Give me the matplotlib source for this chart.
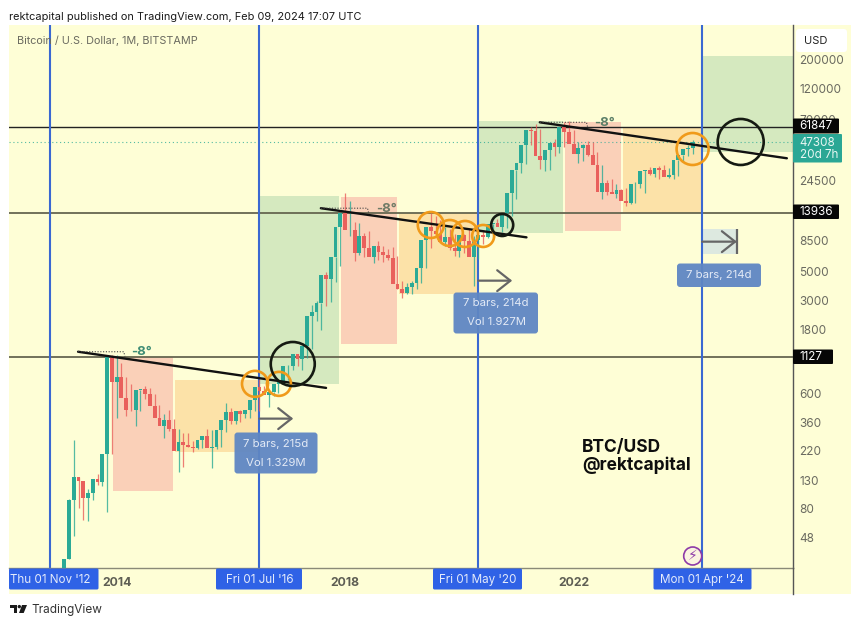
import matplotlib
matplotlib.use("Agg")
import matplotlib.pyplot as plt
from matplotlib.patches import FancyBboxPatch, Polygon, Rectangle, Circle
from matplotlib.transforms import IdentityTransform
import numpy as np

plt.rcParams['font.family'] = ['Inter', 'DejaVu Sans']

# ---------- data: monthly BTC/USD candles, first bar Feb 2013 (month 3, month 0 = Nov 2012)
first_month = 3
opens = [20, 33, 93, 139, 129, 97, 106, 135, 127, 206, 1127,
         732, 800, 550, 450, 447, 630, 640, 585, 480, 385, 338, 378,
         320, 217, 254, 244, 236, 230, 263, 284, 230, 236, 314, 377,
         430, 368, 437, 416, 448, 531, 672, 624, 575, 609, 700, 745,
         960, 965, 1190, 1080, 1350, 2300, 2480, 2860, 4700, 4340, 6450, 10850,
         13880, 10270, 10310, 6925, 9240, 7490, 6390, 7730, 7010, 6630, 6300, 4020,
         3690, 3430, 3820, 4100, 5320, 8570, 10760, 10080, 9590, 8290, 9140, 7540,
         7170, 9350, 8530, 6410, 8620, 9450, 9140, 11350, 11650, 10780, 13800, 19700,
         28990, 33100, 45200, 58800, 57700, 37300, 35000, 41500, 47100, 43800, 61300, 57000,
         46200, 38500, 43200, 45500, 37700, 31800, 19900, 23300, 20000, 19400, 20500, 17150,
         16500, 23100, 23100, 28500, 29200, 27200, 30400, 29200, 25900, 27000, 34600, 37700,
         42300, 42600]
highs = [33, 95, 266, 140, 129, 112, 135, 146, 132, 215, 1163,
         1163, 1010, 800, 700, 540, 630, 680, 650, 590, 490, 415, 450,
         380, 320, 300, 300, 260, 245, 268, 318, 315, 245, 335, 502,
         465, 440, 445, 430, 470, 540, 770, 680, 620, 615, 710, 750,
         985, 1030, 1190, 1290, 1350, 2760, 3000, 2900, 4980, 4980, 6450, 11000,
         19666, 17170, 11780, 11700, 9770, 10020, 7770, 8480, 7750, 7410, 7680, 6570,
         4230, 4070, 4190, 4290, 5640, 9090, 13880, 13130, 12330, 10900, 10370, 9500,
         7750, 9580, 10520, 9180, 9470, 10070, 10380, 11450, 12480, 12070, 14090, 19890,
         29300, 41950, 58330, 61780, 64900, 59500, 41300, 42600, 50500, 52900, 67000, 69000,
         59000, 47900, 45800, 48100, 47400, 40000, 31900, 24700, 25200, 22800, 21000, 21500,
         18400, 23900, 25300, 29200, 31000, 29800, 31400, 31800, 30200, 27500, 35000, 38000,
         45000, 49000, 48300]
lows = [19, 33, 50, 81, 66, 65, 93, 120, 118, 75, 206,
        385, 700, 400, 435, 340, 440, 540, 565, 450, 370, 275, 310,
        310, 152, 165, 235, 215, 225, 230, 260, 162, 226, 235, 302,
        350, 350, 365, 385, 390, 440, 440, 600, 470, 570, 600, 700,
        750, 890, 955, 890, 1100, 1300, 2100, 1800, 2750, 2950, 4130, 5500,
        10400, 9200, 6000, 6600, 6430, 7030, 5750, 6060, 5880, 6100, 6200, 3650,
        3120, 3350, 3390, 3670, 4100, 5270, 7470, 9100, 9340, 7710, 7300, 6550,
        6410, 6850, 8400, 3850, 6150, 8100, 8900, 8980, 10990, 9880, 10550, 13200,
        17600, 27700, 32300, 45000, 47000, 30000, 28800, 29300, 37300, 39600, 43300, 53500,
        42000, 32900, 34300, 37200, 37600, 25400, 17600, 18900, 19500, 18100, 18200, 15500,
        16300, 16500, 21400, 19600, 26900, 25800, 24800, 29000, 25300, 24900, 26500, 34100,
        37600, 38500, 42300]
closes = [33, 93, 139, 129, 97, 106, 135, 127, 206, 1127, 732,
          800, 550, 450, 447, 630, 640, 585, 480, 385, 338, 378, 320,
          217, 254, 244, 236, 230, 263, 284, 230, 236, 314, 377, 430,
          368, 437, 416, 448, 531, 672, 624, 575, 609, 700, 745, 960,
          965, 1190, 1080, 1350, 2300, 2480, 2860, 4700, 4340, 6450, 10850, 13880,
          10270, 10310, 6925, 9240, 7490, 6390, 7730, 7010, 6630, 6300, 4020, 3690,
          3430, 3820, 4100, 5320, 8570, 10760, 10080, 9590, 8290, 9140, 7540, 7170,
          9350, 8530, 6410, 8620, 9450, 9140, 11350, 11650, 10780, 13800, 19700, 28990,
          33100, 45200, 58800, 57700, 37300, 35000, 41500, 47100, 43800, 61300, 57000, 46200,
          38500, 43200, 45500, 37700, 31800, 19900, 23300, 20000, 19400, 20500, 17150, 16500,
          23100, 23100, 28500, 29200, 27200, 30400, 29200, 25900, 27000, 34600, 37700, 42300,
          42600, 47308]

price_levels = [61847, 13936, 1127]
last_price = 47308
cycle_months = [0, 44, 90, 137]
cycle_labels = ["Thu 01 Nov '12", "Fri 01 Jul '16", "Fri 01 May '20", "Mon 01 Apr '24"]

year_ticks = [14, 62, 110]
year_labels = ["2014", "2018", "2022"]
price_ticks = [200000, 120000, 70000, 24500, 8500, 5000, 3000, 1800, 600, 360, 220, 130, 80, 48]

# (month0, month1, price_low, price_high)
red_zones = [(13.2, 25.8, 109, 1127), (61.2, 72.8, 1410, 18300), (108.2, 119.9, 10100, 67500)]
orange_zones = [(26.3, 44, 215, 754), (73.3, 90, 3370, 13700), (120.4, 137, 13936, 61847)]
green_zones = [(44, 60.7, 704, 18590), (90, 107.8, 9750, 68660), (137, 156.1, 40000, 213000)]
range_zone = (137, 144.3, 6765, 10460)

# (month0, price0, month1, price1)
trendlines = [(5.9, 1232, 58, 656), (56.9, 15020, 100.1, 9040), (102.9, 67100, 154.8, 35860)]
# (month0, month1, price, label month, label price, colour)
angle_marks = [(5.9, 15.5, 1232, 19.2, 1227, '#3F8D75'),
               (56.9, 66.7, 15020, 70.6, 14820, '#6E7A66'),
               (102.9, 112.7, 67100, 116.4, 66500, '#5B7F68')]

orange_months = [43.07, 48.1, 80, 84, 87.2, 91, 135]
orange_prices = [704, 704, 11210, 9750, 9590, 9260, 42150]
orange_radius = [13, 12, 13, 13, 13, 11, 16]
black_months = [51, 95, 145.1]
black_prices = [995, 11210, 47630]
black_radius = [22, 11, 23]

# (month0, month1, price)
arrows = [(44, 51.1, 384), (90, 97.1, 4250), (137, 144.3, 8385)]

# ---------- layout
W, H = 860, 626
BG = '#FEFED6'
GREEN, RED = '#2BAA96', '#E9605C'
BLUE = '#2F62E6'
fig = plt.figure(figsize=(W / 100, H / 100), dpi=100, facecolor='white')
ax = fig.add_axes([9 / W, 1 - 568 / H, (793 - 9) / W, (568 - 25) / H], facecolor=BG)
ax.set_yscale('log')
ax.set_xlim(-8.61, 156.09)
ax.set_ylim(28.45, 365600)


def px_box(x0, y0, x1, y1, color, radius=2.0, alpha=1.0, z=5, ec='none'):
    p = FancyBboxPatch((x0, H - y1), x1 - x0, y1 - y0,
                       boxstyle=f'round,pad=0,rounding_size={radius}',
                       transform=IdentityTransform(), fc=color, ec=ec, alpha=alpha, zorder=z, lw=0.8)
    fig.add_artist(p)


def ftext(x, y, s, size=9, color='#111', ha='left', weight='normal', z=6, **kw):
    fig.text(x / W, 1 - y / H, s, fontsize=size, color=color, ha=ha, va='center',
             fontweight=weight, zorder=z, **kw)


# panel background behind axes
fig.add_artist(Rectangle((9, H - 594), 842, 569, transform=IdentityTransform(), fc=BG, ec='none', zorder=-5))

# zones
for zones, col in ((red_zones, '#FAD0B8'), (orange_zones, '#FCE2A8'), (green_zones, '#D5E9BF')):
    for m0, m1, p0, p1 in zones:
        ax.fill_between([m0, m1], p0, p1, color=col, lw=0, zorder=1)
ax.fill_between(range_zone[:2], range_zone[2], range_zone[3], color='#DDE9E0', lw=0, zorder=1)

# horizontal levels
ax.axhline(price_levels[0], color='#222222', lw=1.0, zorder=2)
ax.axhline(price_levels[1], color='#666650', lw=1.3, zorder=2)
ax.axhline(price_levels[2], color='#666650', lw=1.3, zorder=2)
ax.axhline(last_price, color=GREEN, lw=0.8, ls=(0, (1, 2.5)), alpha=0.8, zorder=2)

# cycle verticals
for m in cycle_months:
    ax.axvline(m, color='#3A68D2', lw=1.5, zorder=2.5)

# candles
months = np.arange(first_month, first_month + len(closes))
n = len(closes)
o = np.array(opens[:n], float)
c = np.array(closes, float)
hi = np.array(highs[:n], float)
lo = np.array(lows[:n], float)
cols = [GREEN if cc >= oo else RED for oo, cc in zip(o, c)]
ax.vlines(months, lo, hi, colors=cols, lw=0.9, alpha=0.8, zorder=3)
ax.bar(months, np.abs(c - o), bottom=np.minimum(o, c), width=0.8, color=cols, lw=0, zorder=3.2)

# trendlines and -8 degree marks
for m0, p0, m1, p1 in trendlines:
    ax.plot([m0, m1], [p0, p1], color='#111111', lw=1.7, zorder=4, solid_capstyle='round')
for m0, m1, p, lm, lp, col in angle_marks:
    ax.plot([m0, m1, m1 + 0.25], [p, p, p * 0.92], color='#444444', lw=0.8, ls=(0, (1, 1.5)), zorder=4)
    ax.text(lm, lp, '-8°', color=col, fontsize=9.5, fontweight='bold', ha='center', va='center', zorder=4)

# circles
to_s = lambda rs: [(2 * r * 0.72) ** 2 for r in rs]
ax.scatter(orange_months, orange_prices, s=to_s(orange_radius), facecolors='none',
           edgecolors='#F09A1A', linewidths=1.9, zorder=5)
ax.scatter(black_months, black_prices, s=to_s(black_radius), facecolors='none',
           edgecolors='#151A12', linewidths=1.9, zorder=5)

# measure arrows
for m0, m1, p in arrows:
    ax.annotate('', xy=(m1, p), xytext=(m0, p), zorder=4.5,
                arrowprops=dict(arrowstyle='->,head_length=0.95,head_width=0.75', color='#666666',
                                lw=1.6, shrinkA=0, shrinkB=0, mutation_scale=10))
ax.vlines(arrows[2][1], range_zone[2], range_zone[3], colors='#666666', lw=1.6, zorder=4.5)

# axes styling
for s in ('top', 'left'):
    ax.spines[s].set_visible(False)
ax.spines['bottom'].set_color('#8A8A78')
ax.spines['bottom'].set_linewidth(1.0)
ax.spines['right'].set_color('#555555')
ax.spines['right'].set_linewidth(1.0)
ax.yaxis.tick_right()
ax.set_yticks(price_ticks)
ax.set_yticklabels([str(t) for t in price_ticks])
ax.yaxis.set_minor_locator(matplotlib.ticker.NullLocator())
ax.tick_params(axis='y', length=0, pad=4.5, labelsize=8.5, labelcolor='#6A6A60')
ax.set_xticks(year_ticks)
ax.set_xticklabels(year_labels, fontweight='bold')
ax.tick_params(axis='x', length=0, pad=6.5, labelsize=8.8, labelcolor='#5E5E54')

# right axis continues down to panel foot
fig.add_artist(plt.Line2D([793, 793], [H - 594, H - 568], transform=IdentityTransform(), color='#555555', lw=1.0))

# date badges (centred on their cycle line)
badge_x = [(9, 98.5), (216, 302), (433, 522), (653.5, 751.5)]
label_x = [50, 259.5, 478, 702]
for (x0, x1), lx, label in zip(badge_x, label_x, cycle_labels):
    px_box(x0, 568.5, x1, 589.5, BLUE, radius=1.5)
    ftext(lx, 580, label, size=8.4, color='#E4EBFB', ha='center')

# lightning badge
fig.add_artist(Circle((692.7, H - 556), 9, transform=IdentityTransform(), fc='#FBF4E0', ec='#8E3BA8', lw=1.2, zorder=5))
fig.text(692.7 / W, 1 - 556.3 / H, '\u26A1', fontsize=10, color='#8E3BA8', ha='center', va='center',
         family='DejaVu Sans', zorder=6)

# price badges
for top, bot, right, label in [(118.5, 133.5, 839, '61847'), (204.5, 219, 839, '13936'), (349.5, 364, 833, '1127')]:
    px_box(793, top, right, bot, '#060606', radius=1.0)
    ftext(799.5, (top + bot) / 2 + 0.3, label, size=8.4, color='white')
px_box(793, 134, 842, 162.5, '#2AA795', radius=1.0)
ftext(799.5, 142.5, '47308', size=8.4, color='#E8F7F3')
ftext(799.5, 154.5, '20d 7h', size=8.4, color='#E8F7F3')

# USD button
px_box(796, 29, 847, 52, 'white', radius=3)
ftext(804, 40.5, 'USD', size=8.0, color='#222222')

# measure tooltips
TIP = '#5F86C3'
px_box(234.5, 432.5, 317.5, 473.5, TIP, radius=3, alpha=0.95)
ftext(276, 444, '7 bars, 215d', size=8.2, color='#E3EAF6', ha='center')
ftext(276, 462.5, 'Vol 1.329M', size=8.2, color='#E3EAF6', ha='center')
px_box(453.5, 292.5, 538, 333.5, TIP, radius=3, alpha=0.95)
ftext(496, 303.5, '7 bars, 214d', size=8.2, color='#E3EAF6', ha='center')
ftext(496, 322, 'Vol 1.927M', size=8.2, color='#E3EAF6', ha='center')
px_box(677, 263.5, 761, 287, TIP, radius=3, alpha=0.95)
ftext(719, 275, '7 bars, 214d', size=8.2, color='#E3EAF6', ha='center')

# texts
ftext(9, 16.5, 'rektcapital published on TradingView.com, Feb 09, 2024 17:07 UTC', size=7.9, color='#1A1A1A')
ftext(17, 41, 'Bitcoin / U.S. Dollar, 1M, BITSTAMP', size=7.8, color='#6A6A60')
ftext(582, 447, 'BTC/USD', size=12.5, weight='bold', color='#0E0E0E')
ftext(582, 465.5, '@rektcapital', size=12.5, weight='bold', color='#0E0E0E')

# TradingView wordmark
ink = '#1B1B1B'
for pts in ([(9.5, 605), (17, 605), (17, 613), (13.5, 613), (13.5, 608), (9.5, 608)],
            [(22, 605), (27, 605), (23.7, 613), (19, 613)]):
    fig.add_artist(Polygon([(x, H - y) for x, y in pts], closed=True, transform=IdentityTransform(), fc=ink, ec='none'))
fig.add_artist(Circle((19.3, H - 606.6), 1.7, transform=IdentityTransform(), fc=ink, ec='none'))
ftext(31, 609.5, 'TradingView', size=8.5, color='#333333')

fig.savefig('out.png', dpi=100, facecolor='white')
